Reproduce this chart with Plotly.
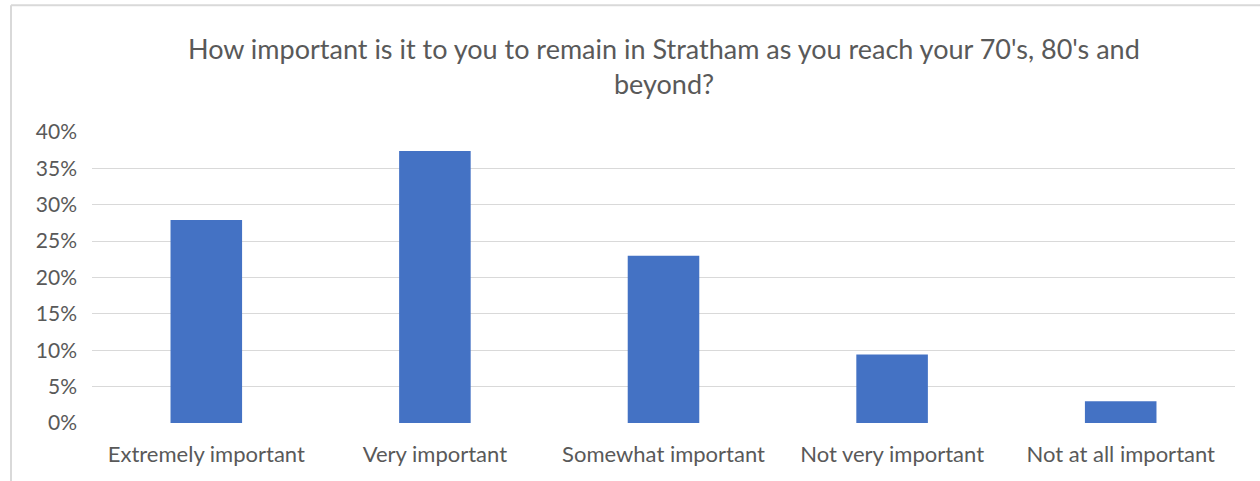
import plotly.graph_objects as go

categories = ["Extremely important", "Very important", "Somewhat important",
              "Not very important", "Not at all important"]
values = [0.279, 0.374, 0.230, 0.094, 0.030]
tick_vals = [0, 0.05, 0.10, 0.15, 0.20, 0.25, 0.30, 0.35, 0.40]
tick_text = ["0%", "5%", "10%", "15%", "20%", "25%", "30%", "35%", "40%"]
title_lines = ["How important is it to you to remain in Stratham as you reach your 70's, 80's and",
               "beyond?"]

FONT = "Lato"
GRAY = "#595959"

fig = go.Figure(go.Bar(x=categories, y=values, marker=dict(color="#4472C4", line=dict(width=0))))

L, R, T, B = 92, 25, 131.7, 58.3
W, H = 1260, 481
pw, ph = W - L - R, H - T - B

def py(ypix):
    return 1 + (T - ypix) / ph

def px(xpix):
    return (xpix - L) / pw

fig.update_layout(
    width=W, height=H,
    margin=dict(l=L, r=R, t=T, b=B),
    paper_bgcolor="white", plot_bgcolor="white",
    bargap=0.687,
    showlegend=False,
    font=dict(family=FONT, color=GRAY),
    xaxis=dict(showgrid=False, showline=False, zeroline=False, ticks="",
               tickfont=dict(size=22, color=GRAY, family=FONT), ticklabelstandoff=16),
    yaxis=dict(range=[0, 0.40], tickvals=tick_vals, ticktext=tick_text,
               showgrid=True, gridcolor="#d9d9d9", gridwidth=1.3, zeroline=False,
               showline=False, ticks="",
               tickfont=dict(size=21, color=GRAY, family=FONT), ticklabelstandoff=14),
    annotations=[
        dict(text=title_lines[0], x=0.5, xref="paper", y=py(48), yref="paper",
             showarrow=False, font=dict(size=27, color=GRAY, family=FONT), yanchor="middle"),
        dict(text=title_lines[1], x=0.5, xref="paper", y=py(83), yref="paper",
             showarrow=False, font=dict(size=27, color=GRAY, family=FONT), yanchor="middle"),
    ],
    shapes=[
        dict(type="line", xref="paper", yref="paper",
             x0=px(11), x1=px(1262), y0=py(5), y1=py(5),
             line=dict(color="#d9d9d9", width=2), layer="below"),
        dict(type="line", xref="paper", yref="paper",
             x0=px(11), x1=px(11), y0=py(5), y1=py(483),
             line=dict(color="#d9d9d9", width=2), layer="below"),
    ],
)

fig.write_html("out.html", config={"displayModeBar": False},
               post_script="document.body.style.margin='0';document.body.style.overflow='hidden';")
